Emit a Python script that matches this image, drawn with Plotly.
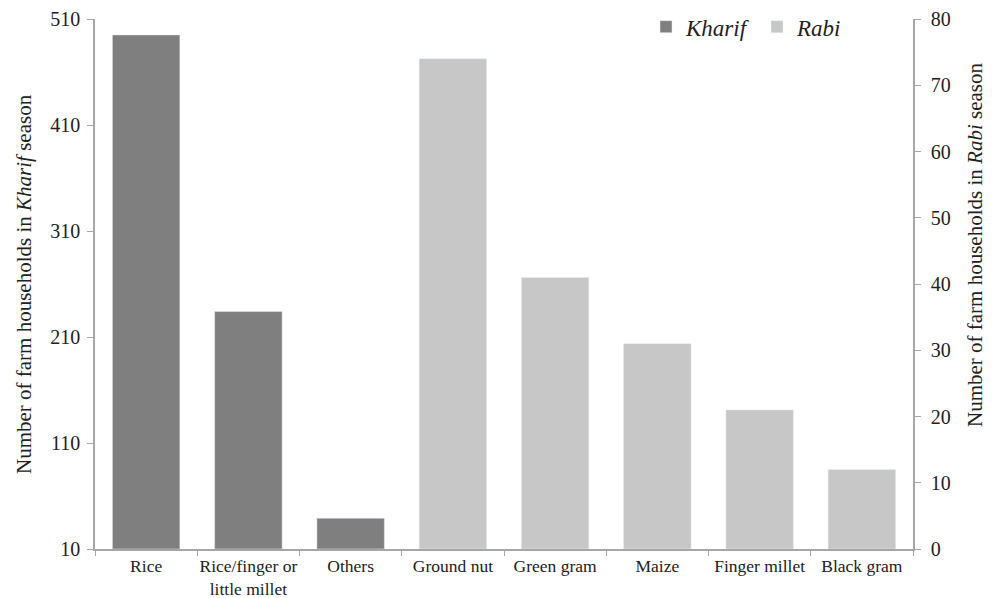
import plotly.graph_objects as go

categories = ["Rice", "Rice/finger or<br>little millet", "Others", "Ground nut",
              "Green gram", "Maize", "Finger millet", "Black gram"]
kharif_cats = categories[:3]
kharif_vals = [495, 234, 39]
rabi_cats = categories[3:]
rabi_vals = [74, 41, 31, 21, 12]
left_ticks = [10, 110, 210, 310, 410, 510]
right_ticks = [0, 10, 20, 30, 40, 50, 60, 70, 80]
left_title = "Number of farm households in <i>Kharif</i> season"
right_title = "Number of farm households in <i>Rabi</i> season"

FONT = "Liberation Serif"
AXC = "#a6a6a6"

fig = go.Figure()
fig.add_trace(go.Bar(x=kharif_cats, y=[v - 10 for v in kharif_vals], base=10,
                     name="<i>Kharif</i>", marker_color="#7f7f7f",
                     width=0.66, yaxis="y"))
fig.add_trace(go.Bar(x=rabi_cats, y=rabi_vals, name="<i>Rabi</i>",
                     marker_color="#c6c7c6", width=0.66, yaxis="y2"))

# the page body has an 8px margin, so the figure is sized/offset accordingly
fig.update_layout(
    width=987, height=590,
    margin=dict(l=87, r=82, t=11, b=49, autoexpand=False),
    paper_bgcolor="white", plot_bgcolor="white",
    barmode="overlay",
    font=dict(family=FONT, color="#222222", size=18),
    showlegend=True,
    legend=dict(orientation="h", x=0.6736, y=1.026, xanchor="left", yanchor="top",
                font=dict(size=23, family=FONT), itemwidth=30,
                entrywidth=66,
                bgcolor="rgba(0,0,0,0)", traceorder="normal"),
    xaxis=dict(type="category", categoryorder="array", categoryarray=categories,
               showline=True, linecolor=AXC, linewidth=1.5, ticks="outside",
               tickcolor=AXC, ticklen=5, tickson="boundaries", automargin=False,
               tickangle=0, tickfont=dict(size=17.5, family=FONT), showgrid=False),
    yaxis=dict(range=[10, 510], tickvals=left_ticks, showline=True, linecolor=AXC,
               linewidth=1.5, ticks="outside", tickcolor=AXC, ticklen=6,
               ticklabelstandoff=3,
               showgrid=False, zeroline=False, tickfont=dict(size=20, family=FONT),
               automargin=False),
    yaxis2=dict(range=[0, 80], tickvals=right_ticks, overlaying="y", side="right",
                showline=True, linecolor=AXC, linewidth=1.5, ticks="outside",
                tickcolor=AXC, ticklen=6, ticklabelstandoff=6,
                showgrid=False, zeroline=False,
                tickfont=dict(size=20, family=FONT), automargin=False),
    annotations=[
        dict(text=left_title, xref="paper", yref="paper", x=-0.0868, y=0.5,
             xanchor="center", yanchor="middle", textangle=-90, showarrow=False,
             font=dict(size=21, family=FONT, color="#222222")),
        dict(text=right_title, xref="paper", yref="paper", x=1.0758, y=0.5736,
             xanchor="center", yanchor="middle", textangle=-90, showarrow=False,
             font=dict(size=21, family=FONT, color="#222222")),
    ],
)

fig.write_html("out.html")
